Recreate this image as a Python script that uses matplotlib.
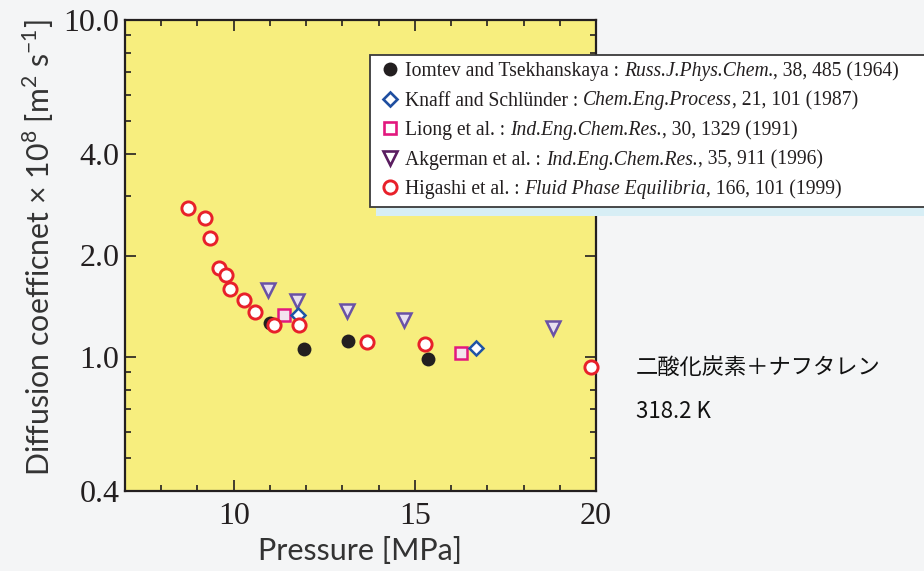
import matplotlib
matplotlib.use("Agg")
import matplotlib.pyplot as plt
from matplotlib.lines import Line2D
from matplotlib.patches import Rectangle
from matplotlib.ticker import FixedLocator, NullFormatter

plt.rcParams['mathtext.fontset'] = 'custom'
plt.rcParams['mathtext.rm'] = 'Lato'
plt.rcParams['mathtext.sf'] = 'Lato'

# ---- data ----
iomtev_p = [10.99, 11.93, 13.15, 15.37]
iomtev_d = [1.26, 1.058, 1.116, 0.988]

knaff_p = [11.78, 16.69]
knaff_d = [1.332, 1.061]

liong_p = [11.39, 16.28]
liong_d = [1.332, 1.03]

akger_p = [10.96, 11.76, 13.12, 14.69, 18.81]
akger_d = [1.58, 1.47, 1.37, 1.29, 1.22]

higashi_p = [8.74, 9.22, 9.34, 9.59, 9.78, 9.90, 10.29, 10.59, 11.10, 11.79, 13.67, 15.27, 19.86]
higashi_d = [2.76, 2.58, 2.25, 1.84, 1.75, 1.59, 1.48, 1.36, 1.24, 1.24, 1.105, 1.09, 0.936]

y_major = [0.4, 1.0, 2.0, 4.0, 10.0]
y_major_labels = ['0.4', '1.0', '2.0', '4.0', '10.0']
y_minor = [0.5, 0.6, 0.7, 0.8, 0.9, 3, 5, 6, 7, 8, 9]
x_major = [10, 15, 20]
x_minor = [8, 9, 11, 12, 13, 14, 16, 17, 18, 19]

# (normal, italic, normal)
legend_entries = [
    ("Iomtev and Tsekhanskaya : ", "Russ.J.Phys.Chem.", ", 38, 485 (1964)"),
    ("Knaff and Schlünder : ", "Chem.Eng.Process", ", 21, 101 (1987)"),
    ("Liong et al. : ", "Ind.Eng.Chem.Res.", ", 30, 1329 (1991)"),
    ("Akgerman et al. : ", "Ind.Eng.Chem.Res.", ", 35, 911 (1996)"),
    ("Higashi et al. : ", "Fluid Phase Equilibria", ", 166, 101 (1999)"),
]

W, H = 924, 571
fig = plt.figure(figsize=(W / 100, H / 100), dpi=100)
fig.patch.set_facecolor('#f4f5f6')

ax = fig.add_axes([125 / W, 1 - 491 / H, (596 - 125) / W, (491 - 20) / H])
ax.set_facecolor('#f7ee7e')
ax.set_yscale('log')
ax.set_xlim(7, 20)
ax.set_ylim(0.4, 10.0)

txt = '#231f20'
for s in ax.spines.values():
    s.set_linewidth(1.6)
    s.set_color(txt)

ax.yaxis.set_major_locator(FixedLocator(y_major))
ax.set_yticklabels(y_major_labels)
ax.yaxis.set_minor_locator(FixedLocator(y_minor))
ax.yaxis.set_minor_formatter(NullFormatter())
ax.xaxis.set_major_locator(FixedLocator(x_major))
ax.xaxis.set_minor_locator(FixedLocator(x_minor))
ax.tick_params(which='both', direction='in', top=True, right=True, color=txt, width=1.2)
ax.tick_params(which='major', length=8)
ax.tick_params(which='minor', length=4)
for lab in ax.get_xticklabels() + ax.get_yticklabels():
    lab.set_fontfamily('Liberation Serif')
    lab.set_fontsize(23)
    lab.set_color(txt)
ax.tick_params(axis='x', pad=8)
ax.tick_params(axis='y', pad=4)

lab_col = '#333333'
ax.set_xlabel('Pressure [MPa]', fontfamily='Lato', fontsize=22, color=lab_col, labelpad=4)
ax.set_ylabel('Diffusion coefficnet × 10$^{8}$ [m$^{2}$ s$^{-1}$]',
              fontfamily='Lato', fontsize=21.8, color=lab_col)
ax.yaxis.set_label_coords(-(125 - 56) / (596 - 125), (491 - 248) / (491 - 20))

ax.plot(akger_p, akger_d, 'v', ms=10.5, mfc='#e8e0f0', mec='#6a52a6', mew=1.8, ls='none', clip_on=False, zorder=3)
ax.plot(liong_p, liong_d, 's', ms=9, mfc='#f3e3ee', mec='#e2187e', mew=1.8, ls='none', clip_on=False, zorder=3)
ax.plot(knaff_p, knaff_d, 'D', ms=7.5, mfc='white', mec='#1f54a5', mew=1.8, ls='none', clip_on=False, zorder=3)
ax.plot(iomtev_p, iomtev_d, 'o', ms=10, mfc='#231f20', mec='#231f20', mew=0, ls='none', clip_on=False, zorder=3)
ax.plot(higashi_p, higashi_d, 'o', ms=9.5, mfc='white', mec='#e8202a', mew=2.1, ls='none', clip_on=False, zorder=4)

# ---- legend (manual, extends past figure edge) ----
def fx(px):
    return px / W

def fy(py):
    return 1 - py / H

shadow = Rectangle((fx(376), fy(216)), fx(940) - fx(376), fy(63) - fy(216),
                   transform=fig.transFigure, facecolor='#d7eef5', edgecolor='none', zorder=5)
box = Rectangle((fx(370), fy(207)), fx(940) - fx(370), fy(55) - fy(207),
                transform=fig.transFigure, facecolor='white', edgecolor='#3a3a3a', lw=1.3, zorder=6)
fig.add_artist(shadow)
fig.add_artist(box)

leg_markers = [
    dict(marker='o', ms=10, mfc='#231f20', mec='#231f20', mew=0),
    dict(marker='D', ms=7.5, mfc='white', mec='#1f4ea0', mew=1.9),
    dict(marker='s', ms=8.5, mfc='white', mec='#e2187e', mew=1.9),
    dict(marker='v', ms=10, mfc='white', mec='#5a1d60', mew=1.9),
    dict(marker='o', ms=9.5, mfc='white', mec='#e8202a', mew=2.1),
]
row_y = [69, 98.5, 128, 157.5, 187]
renderer = fig.canvas.get_renderer()
leg_fs = 14.1
for y, mk, parts in zip(row_y, leg_markers, legend_entries):
    fig.add_artist(Line2D([fx(390)], [fy(y)], transform=fig.transFigure, ls='none', zorder=7, **mk))
    xpix = 405.0
    for i, part in enumerate(parts):
        t = fig.text(fx(xpix), fy(y), part, fontfamily='Liberation Serif',
                     fontstyle='italic' if i == 1 else 'normal', fontsize=leg_fs,
                     color=txt, va='center_baseline', ha='left', zorder=7)
        bb = t.get_window_extent(renderer=renderer)
        xpix += bb.width

fig.text(fx(636), fy(367), '二酸化炭素＋ナフタレン', fontfamily=['Noto Sans CJK JP', 'DejaVu Sans'],
         fontsize=16, color='#111111', va='center', ha='left')
fig.text(fx(636), fy(411), '318.2 K', fontfamily=['Noto Sans CJK JP', 'DejaVu Sans'],
         fontsize=16, color='#111111', va='center', ha='left')

fig.savefig('out.png', dpi=100, facecolor=fig.get_facecolor())
